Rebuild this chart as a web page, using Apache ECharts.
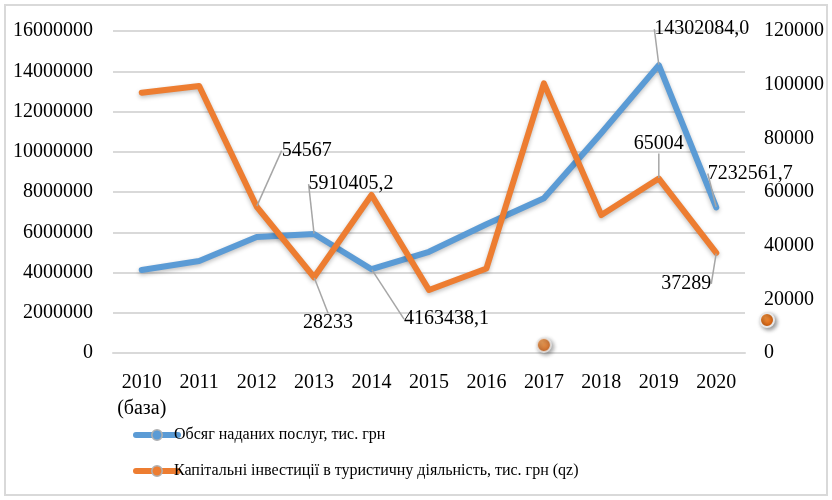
<!DOCTYPE html>
<html><head><meta charset="utf-8">
<script src="https://cdn.jsdelivr.net/npm/echarts@6/dist/echarts.min.js"></script>
<style>html,body{margin:0;padding:0;background:#fff}#c{width:832px;height:500px}</style>
</head><body><div id="c"></div>
<script>
const categories = ['2010\n(база)','2011','2012','2013','2014','2015','2016','2017','2018','2019','2020'];
const services = [4120000, 4570000, 5760000, 5910405.2, 4163438.1, 5030000, 6400000, 7690000, 10930000, 14302084.0, 7232561.7];
const investments = [97000, 99500, 54567, 28233, 58900, 23500, 31500, 100500, 51400, 65004, 37289];
const strayDot = [null, null, null, null, null, null, null, 3000, null, null, null];
const leftTicks = {min: 0, max: 16000000, interval: 2000000};
const rightTicks = {min: 0, max: 120000, interval: 20000};
const serviceLabels = {3: '5910405,2', 4: '4163438,1', 9: '14302084,0', 10: '7232561,7'};
const serviceOffsets = {3: [37, -50], 4: [75, 50], 9: [43, -36], 10: [34, -34]};
const investLabels = {2: '54567', 3: '28233', 9: '65004', 10: '37289'};
const investOffsets = {2: [50, -56], 3: [14, 46], 9: [0, -35], 10: [-30, 31]};

const font = 'Liberation Serif, Times New Roman, serif';
const BLUE = '#5B9BD5', ORANGE = '#ED7D31';

function buildData(vals, labels) {
  return vals.map((v, i) => labels[i] !== undefined ? {value: v, label: {show: true, formatter: labels[i]}, labelLine: {show: true}} : v);
}
const dotGrad = () => new echarts.graphic.RadialGradient(0.4, 0.35, 0.7, [{offset: 0, color: '#ff9a40'}, {offset: 1, color: '#c84f00'}]);

const chart = echarts.init(document.getElementById('c'));
chart.setOption({
  animation: false,
  backgroundColor: '#fff',
  grid: {left: 113, right: 87, top: 31, bottom: 147},
  graphic: [
    {type: 'rect', shape: {x: 5, y: 5, width: 822, height: 490}, style: {fill: 'none', stroke: '#d9d9d9', lineWidth: 2}, silent: true},
    {type: 'circle', shape: {cx: 767, cy: 320, r: 7}, style: {fill: dotGrad(), stroke: '#e8e8e8', lineWidth: 2, shadowBlur: 4, shadowColor: 'rgba(0,0,0,0.4)', shadowOffsetX: 2, shadowOffsetY: 2}, silent: true}
  ],
  legend: {
    orient: 'vertical', left: 128, top: 422, itemGap: 20, itemWidth: 42, itemHeight: 13,
    data: ['Обсяг наданих послуг, тис. грн', 'Капітальні інвестиції в туристичну діяльність, тис. грн (qz)'],
    lineStyle: {width: 6},
    itemStyle: {borderColor: '#b0b0b0', borderWidth: 1.5},
    textStyle: {fontFamily: font, fontSize: 16, color: '#000', padding: [0, 0, 0, -9]}
  },
  xAxis: {
    type: 'category', data: categories, boundaryGap: true,
    axisLine: {show: true, lineStyle: {color: '#d9d9d9', width: 2}},
    axisTick: {show: false},
    axisLabel: {fontFamily: font, fontSize: 20, color: '#000', margin: 17, lineHeight: 26, interval: 0}
  },
  yAxis: [
    {type: 'value', min: leftTicks.min, max: leftTicks.max, interval: leftTicks.interval,
     axisLine: {show: false}, axisTick: {show: false},
     splitLine: {lineStyle: {color: '#d9d9d9', width: 2}},
     axisLabel: {fontFamily: font, fontSize: 20, color: '#000', margin: 20, formatter: v => String(v)}},
    {type: 'value', min: rightTicks.min, max: rightTicks.max, interval: rightTicks.interval,
     axisLine: {show: false}, axisTick: {show: false}, splitLine: {show: false},
     axisLabel: {fontFamily: font, fontSize: 20, color: '#000', margin: 19, formatter: v => String(v)}}
  ],
  series: [
    {name: 'Обсяг наданих послуг, тис. грн', type: 'line', yAxisIndex: 0,
     data: buildData(services, serviceLabels),
     symbol: 'circle', symbolSize: 1, showSymbol: true,
     itemStyle: {color: BLUE},
     lineStyle: {color: BLUE, width: 6, shadowBlur: 4, shadowColor: 'rgba(0,0,0,0.25)', shadowOffsetY: 2, cap: 'round', join: 'round'},
     label: {show: false, position: 'inside', fontFamily: font, fontSize: 20, color: '#000'},
     labelLine: {lineStyle: {color: '#a6a6a6', width: 1.5}},
     labelLayout: p => { const o = serviceOffsets[p.dataIndex]; return o ? {dx: o[0], dy: o[1]} : {}; },
     z: 3},
    {name: 'Капітальні інвестиції в туристичну діяльність, тис. грн (qz)', type: 'line', yAxisIndex: 1,
     data: buildData(investments, investLabels),
     symbol: 'circle', symbolSize: 1, showSymbol: true,
     itemStyle: {color: ORANGE},
     lineStyle: {color: ORANGE, width: 6, shadowBlur: 4, shadowColor: 'rgba(0,0,0,0.25)', shadowOffsetY: 2, cap: 'round', join: 'round'},
     label: {show: false, position: 'inside', fontFamily: font, fontSize: 20, color: '#000'},
     labelLine: {lineStyle: {color: '#a6a6a6', width: 1.5}},
     labelLayout: p => { const o = investOffsets[p.dataIndex]; return o ? {dx: o[0], dy: o[1]} : {}; },
     z: 4},
    {name: 'dot', type: 'scatter', yAxisIndex: 1, data: strayDot, symbolSize: 14,
     itemStyle: {color: dotGrad(), borderColor: '#e8e8e8', borderWidth: 2, shadowBlur: 4, shadowColor: 'rgba(0,0,0,0.4)', shadowOffsetX: 2, shadowOffsetY: 2},
     z: 5}
  ]
});
</script></body></html>
